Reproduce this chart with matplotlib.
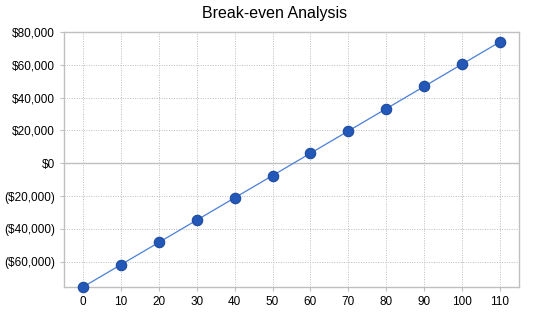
import matplotlib.pyplot as plt
from matplotlib.ticker import FuncFormatter

units = [0, 10, 20, 30, 40, 50, 60, 70, 80, 90, 100, 110]
profit = [-75400, -61800, -48250, -34650, -21070, -7490, 6090, 19670, 33250, 46830, 60410, 73990]
y_ticks = [-60000, -40000, -20000, 0, 20000, 40000, 60000, 80000]


def money(v, pos=None):
	if v < 0:
		return "(${:,.0f})".format(-v)
	return "${:,.0f}".format(v)


plt.rcParams['font.family'] = ['Liberation Sans', 'DejaVu Sans']

fig = plt.figure(figsize=(5.5, 3.18), dpi=100)
ax = fig.add_axes([0.1164, 0.0975, 0.8272, 0.8019])

ax.plot(units, profit, color="#4a7fd8", lw=0.9, marker="o", ms=7.5,
		markerfacecolor="#2458b8", markeredgecolor="#1c4aa0", markeredgewidth=0.8,
		zorder=3, clip_on=False)

ax.set_xlim(-5, 115)
ax.set_ylim(profit[0], 80000)
ax.set_xticks(units)
ax.set_yticks(y_ticks)
ax.yaxis.set_major_formatter(FuncFormatter(money))

ax.grid(True, color="#bcbcbc", ls=(0, (1, 1.5)), lw=0.7)
ax.axhline(0, color="#c0c0c0", lw=1, zorder=2)
for s in ax.spines.values():
	s.set_color("#c0c0c0")
	s.set_linewidth(1)
ax.tick_params(axis="both", colors="#c0c0c0", labelcolor="black", labelsize=8.5, length=3, width=0.8)

fig.suptitle("Break-even Analysis", y=0.98, fontsize=11.5)

plt.savefig("out.png", dpi=100)
